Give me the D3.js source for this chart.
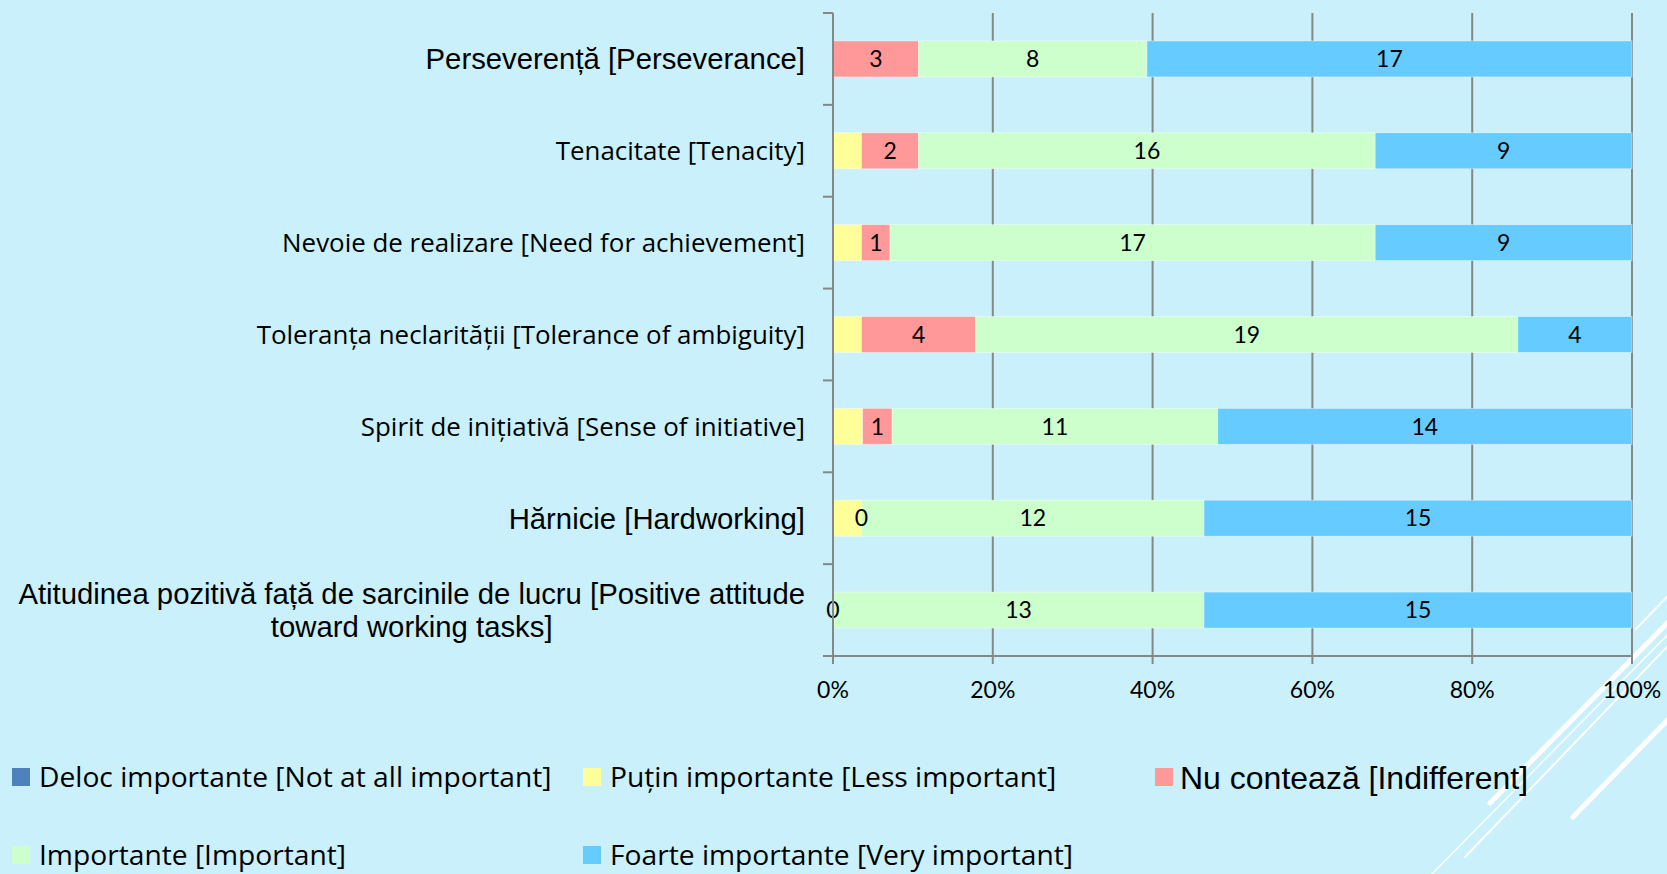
<!DOCTYPE html>
<html>
<head>
<meta charset="utf-8">
<script src="https://cdn.jsdelivr.net/npm/d3@7"></script>
<style>
  html, body { margin: 0; padding: 0; background: #c9f0fb; }
  svg { display: block; }
  .calibri { font-family: "Open Sans", Lato, sans-serif; }
  .num { font-family: Lato, "Open Sans", sans-serif; }
  .arial { font-family: "Liberation Sans", Arial, sans-serif; }
</style>
</head>
<body>
<svg id="chart" width="1667" height="874"></svg>
<script>
// categories, top to bottom
var categories = [
  "Perseverență [Perseverance]",
  "Tenacitate [Tenacity]",
  "Nevoie de realizare [Need for achievement]",
  "Toleranța neclarității [Tolerance of ambiguity]",
  "Spirit de inițiativă [Sense of initiative]",
  "Hărnicie [Hardworking]",
  "Atitudinea pozitivă față de sarcinile de lucru [Positive attitude\ntoward working tasks]"
];
var seriesNames = [
  "Deloc importante [Not at all important]",
  "Puțin importante [Less important]",
  "Nu contează [Indifferent]",
  "Importante [Important]",
  "Foarte importante [Very important]"
];
var delocValues = [0, 0, 0, 0, 0, 0, 0];
var putinValues = [0, 1, 1, 1, 1, 1, 0];
var indiferentValues = [3, 2, 1, 4, 1, 0, 0];
var importanteValues = [8, 16, 17, 19, 11, 12, 13];
var foarteValues = [17, 9, 9, 4, 14, 15, 15];
var tickValues = [0, 0.2, 0.4, 0.6, 0.8, 1];

var seriesValues = [delocValues, putinValues, indiferentValues, importanteValues, foarteValues];
var colors = ["#4f81bd", "#ffff99", "#ff9999", "#ccffcc", "#66ccff"];
var showLabels = [false, false, true, true, true];
var arialLabels = [0, 5, 6];   // category labels drawn in the arial-like face

var svg = d3.select("#chart");

// decorative white strokes, bottom right
var deco = [
  [1636, 629, 1690, 573, 2],
  [1490, 803, 1690, 600, 5],
  [1465, 857, 1690, 623, 2],
  [1430, 876, 1690, 612, 1.5],
  [1573, 817, 1690, 697, 5]
];
svg.append("g").selectAll("line").data(deco).enter().append("line")
  .attr("x1", function(d){ return d[0]; }).attr("y1", function(d){ return d[1]; })
  .attr("x2", function(d){ return d[2]; }).attr("y2", function(d){ return d[3]; })
  .attr("stroke", "#ffffff").attr("stroke-width", function(d){ return d[4]; })
  .attr("stroke-linecap", "round");

var x = d3.scaleLinear().domain([0, 1]).range([833, 1632]);
var y = d3.scaleBand().domain(categories).range([13, 656]).paddingInner(0.608).paddingOuter(0.304);

// rows -> stacked proportions
var rows = categories.map(function(c, i){
  var r = { cat: c };
  seriesNames.forEach(function(s, k){ r[s] = seriesValues[k][i]; });
  r.total = d3.sum(seriesValues, function(v){ return v[i]; });
  return r;
});
var stack = d3.stack().keys(seriesNames)
  .value(function(d, key){ return d[key] / d.total; });
var stacked = stack(rows);

// gridlines
svg.append("g").selectAll("line").data(tickValues).enter().append("line")
  .attr("x1", function(d){ return x(d); }).attr("x2", function(d){ return x(d); })
  .attr("y1", 13).attr("y2", 664)
  .attr("stroke", "#878787").attr("stroke-width", 2);

// bars
var layers = svg.append("g").selectAll("g").data(stacked).enter().append("g")
  .attr("fill", function(d, i){ return colors[i]; });
layers.selectAll("rect").data(function(d){ return d; }).enter().append("rect")
  .attr("x", function(d){ return x(d[0]); })
  .attr("width", function(d){ return x(d[1]) - x(d[0]); })
  .attr("y", function(d){ return y(d.data.cat); })
  .attr("height", y.bandwidth())
  .attr("stroke", "rgba(255,255,255,0.5)").attr("stroke-width", 0.8);

// data labels
var labelLayers = svg.append("g").selectAll("g").data(stacked).enter().append("g")
  .filter(function(d, i){ return showLabels[i]; });
labelLayers.selectAll("text").data(function(d){ return d.map(function(p){ p.key = d.key; return p; }); })
  .enter().append("text")
  .attr("class", "num")
  .attr("x", function(d){ return (x(d[0]) + x(d[1])) / 2; })
  .attr("y", function(d){ return y(d.data.cat) + y.bandwidth() / 2; })
  .attr("dy", "0.36em")
  .attr("text-anchor", "middle")
  .attr("font-size", 23)
  .attr("fill", "#000")
  .text(function(d){ return d.data[d.key]; });

// y axis line + ticks at band edges
svg.append("line").attr("x1", 833).attr("x2", 833).attr("y1", 13).attr("y2", 656)
  .attr("stroke", "#878787").attr("stroke-width", 2);
svg.append("line").attr("x1", 823).attr("x2", 1632).attr("y1", 656).attr("y2", 656)
  .attr("stroke", "#878787").attr("stroke-width", 2);
var edges = d3.range(categories.length + 1).map(function(i){ return 13 + i * y.step(); });
svg.append("g").selectAll("line").data(edges).enter().append("line")
  .attr("x1", 823).attr("x2", 833)
  .attr("y1", function(d){ return d; }).attr("y2", function(d){ return d; })
  .attr("stroke", "#878787").attr("stroke-width", 2);

// x tick labels
svg.append("g").selectAll("text").data(tickValues).enter().append("text")
  .attr("class", "num")
  .attr("x", function(d){ return x(d); })
  .attr("y", 690).attr("dy", "0.36em")
  .attr("text-anchor", "middle").attr("font-size", 23)
  .text(d3.format(".0%"));

// category labels
var catG = svg.append("g");
categories.forEach(function(c, i){
  var lines = c.split("\n");
  var isArial = arialLabels.indexOf(i) >= 0;
  var t = catG.append("text")
    .attr("class", isArial ? "arial" : "calibri")
    .attr("font-size", isArial ? 29.3 : 25.9)
    .attr("fill", "#000");
  var cy = y(c) + y.bandwidth() / 2;
  var lh = 33;
  lines.forEach(function(l, k){
    t.append("tspan").attr("y", cy + (k - (lines.length - 1) / 2) * lh).attr("dy", "0.36em").text(l);
  });
  var maxW = 0;
  t.selectAll("tspan").each(function(){ maxW = Math.max(maxW, this.getComputedTextLength()); });
  if (lines.length > 1) {
    t.attr("text-anchor", "middle").selectAll("tspan").attr("x", 805 - maxW / 2);
  } else {
    t.attr("text-anchor", "end").selectAll("tspan").attr("x", 805);
  }
});

// legend
var legendPos = [[12, 777], [583, 777], [1155, 777], [12, 855], [583, 855]];
var leg = svg.append("g").selectAll("g").data(seriesNames).enter().append("g")
  .attr("transform", function(d, i){ return "translate(" + legendPos[i][0] + "," + legendPos[i][1] + ")"; });
leg.append("rect").attr("x", 0).attr("y", -9).attr("width", 18).attr("height", 18)
  .attr("fill", function(d, i){ return colors[i]; });
leg.append("text")
  .attr("class", function(d, i){ return i == 2 ? "arial" : "calibri"; })
  .attr("x", function(d, i){ return i == 2 ? 25 : 27; })
  .attr("dy", "0.36em")
  .attr("font-size", function(d, i){ return i == 2 ? 32 : 28.2; })
  .text(function(d){ return d; });
</script>
</body>
</html>
